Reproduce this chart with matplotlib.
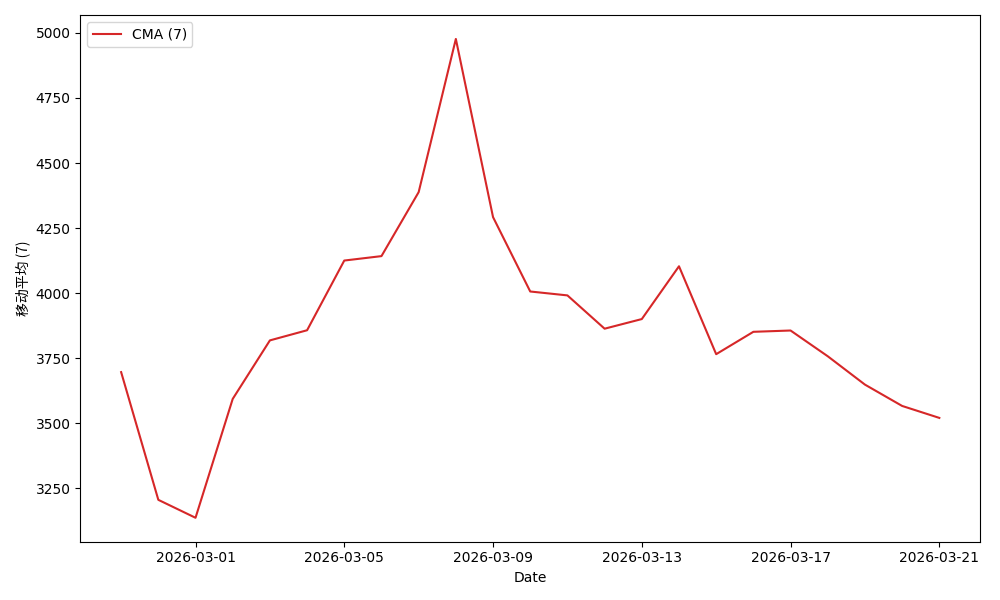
import matplotlib
matplotlib.use("Agg")
import matplotlib.pyplot as plt
import matplotlib.dates as mdates
import pandas as pd

dates = pd.date_range("2026-02-27", "2026-03-21", freq="D")
cma_values = [3696, 3205, 3136, 3593, 3818, 3857, 4125, 4142, 4388, 4977,
              4292, 4006, 3991, 3863, 3900, 4103, 3765, 3851, 3856, 3757,
              3648, 3566, 3520]
series_label = "CMA (7)"
y_label = "移动平均 (7)"
x_label = "Date"

fig, ax = plt.subplots(figsize=(10, 6), dpi=100)
ax.plot(dates, cma_values, color="#d62728", linewidth=1.5, label=series_label)
ax.set_xlabel(x_label)
ax.set_ylabel(y_label, family=["Noto Sans CJK SC", "DejaVu Sans"])
ax.xaxis.set_major_locator(mdates.DayLocator(bymonthday=[1, 5, 9, 13, 17, 21]))
ax.xaxis.set_major_formatter(mdates.DateFormatter("%Y-%m-%d"))
ax.legend(loc="upper left")
fig.tight_layout()
fig.savefig("out.png", dpi=100)
